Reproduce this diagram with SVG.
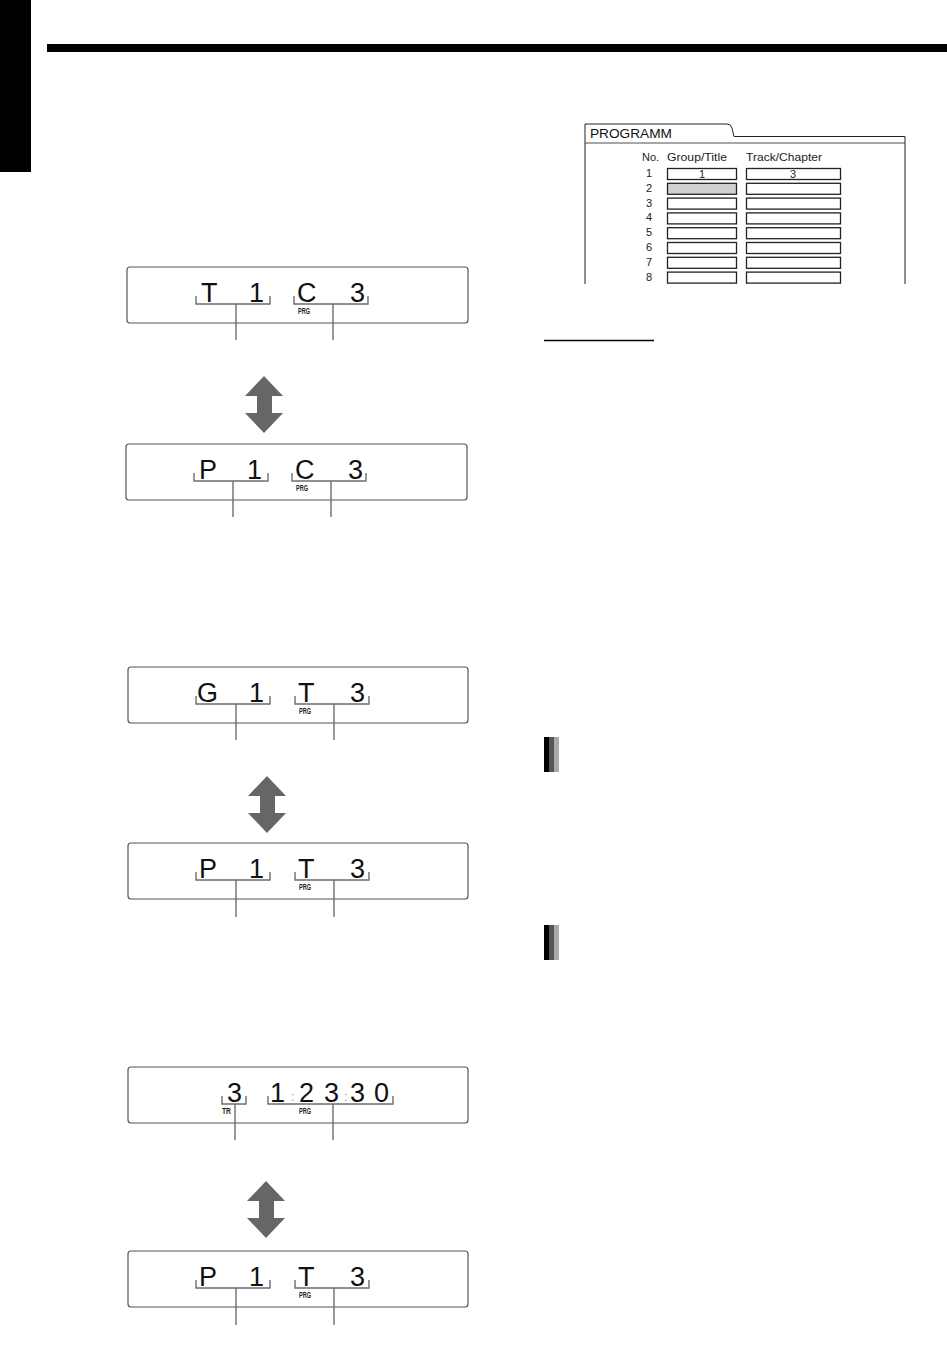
<svg xmlns="http://www.w3.org/2000/svg" width="947" height="1351" viewBox="0 0 947 1351">
<style>
.box{fill:none;stroke:#555;stroke-width:1.2}
.br{fill:none;stroke:#6e6e6e;stroke-width:1.4}
.ld{stroke:#6e6e6e;stroke-width:1.4}
.big{font-family:"Liberation Sans",Arial,sans-serif;font-size:27px;fill:#111}
.prg{font-family:"Liberation Sans",Arial,sans-serif;font-size:9px;font-weight:bold;fill:#222}
.arr{fill:#666}
.tb{font-family:"Liberation Sans",Arial,sans-serif;font-size:11px;fill:#222}
.cell{fill:#fff;stroke:#222;stroke-width:1.3}
.col{font-family:"Liberation Sans",Arial,sans-serif;font-size:13px;fill:#999}
</style>
<rect x="0" y="0" width="947" height="1351" fill="#fff"/>
<rect x="0" y="0" width="31" height="172" fill="#000"/>
<rect x="47" y="44" width="900" height="8" fill="#000"/>

<g id="display1">
<rect class="box" x="127" y="267" width="341" height="56" rx="3"/>
<text class="big" x="201" y="302">T</text>
<text class="big" x="264" y="302" text-anchor="end">1</text>
<text class="big" x="297" y="302">C</text>
<text class="big" x="365" y="302" text-anchor="end">3</text>
<path class="br" d="M196,296V304H270V296M294,296V304H368V296"/>
<text class="prg" x="298" y="314" textLength="12" lengthAdjust="spacingAndGlyphs">PRG</text>
</g>
<g id="display2">
<rect class="box" x="126" y="444" width="341" height="56" rx="3"/>
<text class="big" x="199" y="479">P</text>
<text class="big" x="262" y="479" text-anchor="end">1</text>
<text class="big" x="295" y="479">C</text>
<text class="big" x="363" y="479" text-anchor="end">3</text>
<path class="br" d="M194,473V481H268V473M292,473V481H366V473"/>
<text class="prg" x="296" y="491" textLength="12" lengthAdjust="spacingAndGlyphs">PRG</text>
</g>
<g id="display3">
<rect class="box" x="128" y="667" width="340" height="56" rx="3"/>
<text class="big" x="197" y="702">G</text>
<text class="big" x="264" y="702" text-anchor="end">1</text>
<text class="big" x="298" y="702">T</text>
<text class="big" x="365" y="702" text-anchor="end">3</text>
<path class="br" d="M196,696V704H270V696M295,696V704H369V696"/>
<text class="prg" x="299" y="714" textLength="12" lengthAdjust="spacingAndGlyphs">PRG</text>
</g>
<g id="display4">
<rect class="box" x="128" y="843" width="340" height="56" rx="3"/>
<text class="big" x="199" y="878">P</text>
<text class="big" x="264" y="878" text-anchor="end">1</text>
<text class="big" x="298" y="878">T</text>
<text class="big" x="365" y="878" text-anchor="end">3</text>
<path class="br" d="M196,872V880H270V872M295,872V880H369V872"/>
<text class="prg" x="299" y="890" textLength="12" lengthAdjust="spacingAndGlyphs">PRG</text>
</g>
<g id="display5">
<rect class="box" x="128" y="1067" width="340" height="56" rx="3"/>
<text class="big" x="227" y="1102">3</text>
<text class="big" x="270" y="1102">1</text>
<text class="col" x="291" y="1101">:</text>
<text class="big" x="299" y="1102">2</text>
<text class="big" x="324" y="1102">3</text>
<text class="col" x="344" y="1101">:</text>
<text class="big" x="350" y="1102">3</text>
<text class="big" x="374" y="1102">0</text>
<path class="br" d="M222,1096V1104H246V1096M268,1096V1104H393V1096"/>
<text class="prg" x="222" y="1114" textLength="9" lengthAdjust="spacingAndGlyphs">TR</text>
<text class="prg" x="299" y="1114" textLength="12" lengthAdjust="spacingAndGlyphs">PRG</text>
</g>
<g id="display6">
<rect class="box" x="128" y="1251" width="340" height="56" rx="3"/>
<text class="big" x="199" y="1286">P</text>
<text class="big" x="264" y="1286" text-anchor="end">1</text>
<text class="big" x="298" y="1286">T</text>
<text class="big" x="365" y="1286" text-anchor="end">3</text>
<path class="br" d="M196,1280V1288H270V1280M295,1280V1288H369V1280"/>
<text class="prg" x="299" y="1298" textLength="12" lengthAdjust="spacingAndGlyphs">PRG</text>
</g>

<g id="connectors">
<path class="ld" d="M236,304V340M333,304V340M233,481V517M331,481V517M236,704V740M334,704V740M236,880V917M334,880V917M235,1104V1140M333,1104V1140M236,1288V1325M334,1288V1325"/>
<polygon class="arr" points="264,376 283,396 272,396 272,413 283,413 264,433 245,413 257,413 257,396 245,396"/>
<polygon class="arr" points="267,776 286,796 275,796 275,813 286,813 267,833 248,813 260,813 260,796 248,796"/>
<polygon class="arr" points="266,1181 285,1201 274,1201 274,1218 285,1218 266,1238 247,1218 259,1218 259,1201 247,1201"/>
</g>

<g id="programm">
<path d="M585,284V124H727Q731,124 732,128L734,136.5H905V284" fill="none" stroke="#222" stroke-width="1"/>
<line x1="585" y1="143" x2="905" y2="143" stroke="#222" stroke-width="0.8"/>
<text x="590" y="138" font-family="Liberation Sans,Arial,sans-serif" font-size="13" fill="#111" textLength="82" lengthAdjust="spacingAndGlyphs">PROGRAMM</text>
<text class="tb" x="642" y="161">No.</text>
<text class="tb" x="667" y="161" textLength="60" lengthAdjust="spacingAndGlyphs">Group/Title</text>
<text class="tb" x="746" y="161" textLength="76" lengthAdjust="spacingAndGlyphs">Track/Chapter</text>
<g class="tb" text-anchor="middle">
<text x="649" y="177">1</text>
<text x="649" y="192">2</text>
<text x="649" y="207">3</text>
<text x="649" y="221">4</text>
<text x="649" y="236">5</text>
<text x="649" y="251">6</text>
<text x="649" y="266">7</text>
<text x="649" y="281">8</text>
</g>
<g>
<rect class="cell" x="667.5" y="168.5" width="69" height="11"/>
<rect class="cell" x="746.5" y="168.5" width="94" height="11"/>
<rect class="cell" x="667.5" y="183.3" width="69" height="11" style="fill:#d0d0d0"/>
<rect class="cell" x="746.5" y="183.3" width="94" height="11"/>
<rect class="cell" x="667.5" y="198.1" width="69" height="11"/>
<rect class="cell" x="746.5" y="198.1" width="94" height="11"/>
<rect class="cell" x="667.5" y="212.9" width="69" height="11"/>
<rect class="cell" x="746.5" y="212.9" width="94" height="11"/>
<rect class="cell" x="667.5" y="227.7" width="69" height="11"/>
<rect class="cell" x="746.5" y="227.7" width="94" height="11"/>
<rect class="cell" x="667.5" y="242.5" width="69" height="11"/>
<rect class="cell" x="746.5" y="242.5" width="94" height="11"/>
<rect class="cell" x="667.5" y="257.3" width="69" height="11"/>
<rect class="cell" x="746.5" y="257.3" width="94" height="11"/>
<rect class="cell" x="667.5" y="272.1" width="69" height="11"/>
<rect class="cell" x="746.5" y="272.1" width="94" height="11"/>
</g>
<text class="tb" x="702" y="178" text-anchor="middle" font-size="10">1</text>
<text class="tb" x="793" y="178" text-anchor="middle" font-size="10">3</text>
</g>

<line x1="544" y1="340.5" x2="654" y2="340.5" stroke="#000" stroke-width="1.3"/>
<g id="marker1">
<rect x="544" y="737" width="5" height="35" fill="#000"/>
<rect x="549" y="737" width="5" height="35" fill="#555"/>
<rect x="554" y="737" width="5" height="35" fill="#aaa"/>
</g>
<g id="marker2">
<rect x="544" y="925" width="5" height="35" fill="#000"/>
<rect x="549" y="925" width="5" height="35" fill="#555"/>
<rect x="554" y="925" width="5" height="35" fill="#aaa"/>
</g>
</svg>
